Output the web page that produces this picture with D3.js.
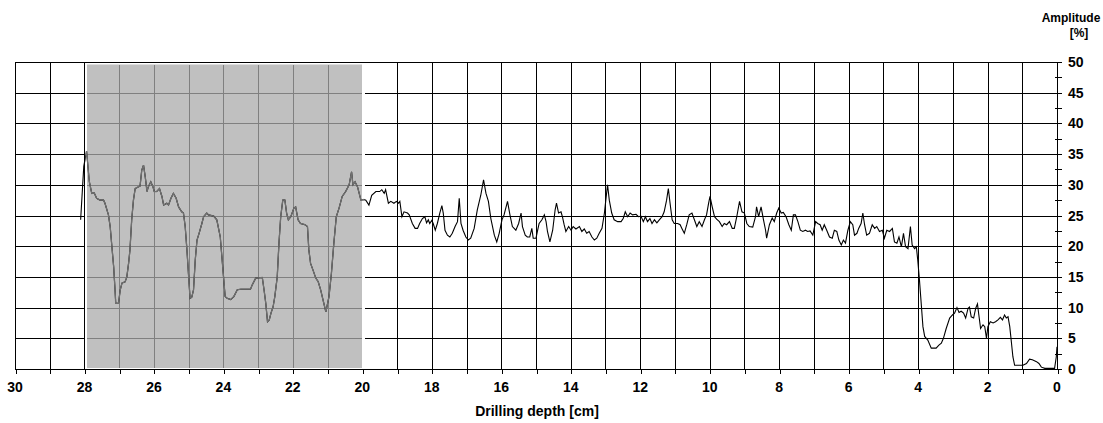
<!DOCTYPE html>
<html lang="en">
	<head>
		<meta charset="utf-8">
		<title>Drilling profile</title>
		<script type="text/javascript" src="https://cdn.jsdelivr.net/npm/d3@7"></script>
		<style type="text/css">
			body { margin: 0; background: #fff; }
			text { font-family: "Liberation Sans", Arial, sans-serif; font-weight: bold; fill: #000; }
		</style>
	</head>
	<body>
	<script>

		var w = 1103;
		var h = 423;

		/* depth [cm] and amplitude [%], from deep to shallow */
		var depth = [
			28.11,28.02,27.94,27.86,27.79,27.72,27.65,27.55,27.45,27.41,
			27.31,27.26,27.21,27.16,27.12,27.10,27.02,26.97,26.92,26.83,
			26.78,26.73,26.69,26.64,26.59,26.54,26.44,26.40,26.35,26.30,
			26.25,26.20,26.16,26.09,26.03,25.99,25.92,25.84,25.77,25.72,
			25.63,25.58,25.51,25.44,25.36,25.29,25.20,25.15,25.10,25.05,
			25.00,24.96,24.91,24.86,24.81,24.76,24.70,24.62,24.57,24.48,
			24.43,24.28,24.19,24.09,23.95,23.89,23.79,23.70,23.60,23.50,
			23.22,23.17,23.07,22.88,22.83,22.78,22.73,22.68,22.63,22.57,
			22.52,22.45,22.40,22.35,22.29,22.23,22.18,22.13,22.06,21.97,
			21.92,21.85,21.78,21.65,21.58,21.54,21.49,21.42,21.34,21.27,
			21.20,21.13,21.05,20.96,20.89,20.82,20.75,20.67,20.58,20.48,
			20.38,20.31,20.27,20.21,20.14,20.04,19.95,19.90,19.81,19.73,
			19.61,19.50,19.44,19.37,19.33,19.25,19.18,19.09,19.02,18.96,
			18.92,18.86,18.80,18.70,18.65,18.56,18.48,18.41,18.35,18.27,
			18.20,18.15,18.10,18.06,18.00,17.96,17.90,17.84,17.77,17.71,
			17.67,17.62,17.55,17.48,17.41,17.33,17.26,17.21,17.16,17.10,
			17.02,16.95,16.88,16.78,16.69,16.59,16.51,16.44,16.37,16.30,
			16.20,16.13,16.06,15.98,15.92,15.82,15.75,15.68,15.58,15.50,
			15.43,15.39,15.31,15.25,15.18,15.12,15.08,15.00,14.96,14.91,
			14.83,14.76,14.71,14.67,14.60,14.52,14.45,14.41,14.35,14.28,
			14.24,14.19,14.14,14.06,13.99,13.93,13.85,13.75,13.68,13.61,
			13.54,13.47,13.39,13.32,13.25,13.18,13.10,13.03,12.99,12.94,
			12.89,12.82,12.75,12.65,12.55,12.49,12.43,12.36,12.29,12.22,
			12.12,12.05,11.98,11.91,11.85,11.79,11.72,11.66,11.59,11.52,
			11.45,11.37,11.31,11.24,11.19,11.14,11.08,11.02,10.92,10.85,
			10.80,10.73,10.66,10.59,10.51,10.44,10.37,10.30,10.22,10.15,
			10.09,10.03,9.99,9.93,9.86,9.80,9.72,9.64,9.58,9.51,
			9.43,9.35,9.29,9.22,9.14,9.07,9.00,8.93,8.86,8.76,
			8.68,8.65,8.59,8.52,8.45,8.39,8.36,8.28,8.20,8.14,
			8.07,8.01,7.94,7.88,7.80,7.72,7.65,7.59,7.53,7.46,
			7.39,7.32,7.24,7.18,7.11,7.03,6.95,6.89,6.82,6.76,
			6.70,6.63,6.55,6.47,6.41,6.34,6.28,6.21,6.15,6.09,
			6.02,5.95,5.88,5.83,5.76,5.71,5.64,5.59,5.54,5.48,
			5.40,5.32,5.25,5.19,5.11,5.03,4.97,4.90,4.82,4.74,
			4.68,4.61,4.55,4.48,4.42,4.36,4.29,4.22,4.17,4.10,
			4.05,4.01,3.96,3.91,3.86,3.81,3.72,3.62,3.48,3.40,
			3.33,3.27,3.19,3.09,3.01,2.95,2.88,2.82,2.76,2.69,
			2.63,2.56,2.52,2.47,2.40,2.34,2.29,2.25,2.20,2.13,
			2.08,2.03,1.99,1.92,1.84,1.77,1.70,1.63,1.57,1.51,
			1.46,1.41,1.36,1.31,1.27,1.22,0.98,0.88,0.79,0.71,
			0.59,0.52,0.45,0.35,0.07,0.02,0.00
		];

		var amplitude = [
			24.3,33.0,35.5,30.5,28.6,28.7,27.8,27.5,27.5,27.0,
			25.1,23.2,19.9,16.7,12.9,10.7,10.7,12.9,14.0,14.2,
			15.0,17.2,19.4,24.3,27.5,29.4,29.7,29.8,32.4,33.2,
			31.3,28.9,29.7,30.5,29.7,28.9,28.9,29.4,28.1,26.7,
			27.0,26.7,27.8,28.6,27.8,26.4,25.6,25.4,23.2,19.4,
			15.0,11.5,11.7,12.9,17.8,21.0,22.1,23.7,24.8,25.4,
			25.1,24.9,24.3,21.5,11.8,11.5,11.3,11.8,12.9,13.0,
			13.0,13.7,14.8,14.9,12.9,10.7,7.7,8.0,9.1,10.1,
			11.8,15.0,20.5,24.8,27.5,27.5,25.4,24.3,24.8,26.2,
			26.4,24.3,23.7,23.5,23.2,19.4,17.2,16.1,14.8,14.2,
			12.9,11.2,9.3,11.8,15.6,20.5,24.8,26.2,28.1,28.9,
			30.0,32.1,30.0,30.5,29.7,27.5,27.6,27.5,26.7,28.3,
			28.9,28.9,29.2,28.6,29.2,27.0,27.3,27.0,27.3,27.0,
			27.3,24.8,25.6,25.4,25.1,23.7,22.9,22.9,23.7,24.5,
			24.8,23.8,24.3,23.7,24.2,23.7,22.6,23.7,25.4,26.6,
			25.4,22.6,21.8,21.5,22.1,23.2,24.0,27.8,23.7,22.6,
			21.5,21.0,21.3,22.9,25.9,28.3,30.8,28.6,27.3,24.5,
			21.8,20.7,22.1,24.3,25.1,27.3,25.1,23.2,22.6,23.7,
			25.4,23.2,21.8,21.5,21.5,22.9,21.3,21.3,22.4,23.7,
			24.3,25.1,24.0,22.4,20.7,22.6,25.9,27.0,25.4,25.6,
			24.8,23.5,22.4,23.2,22.6,23.2,22.8,23.2,22.4,22.8,
			22.1,22.4,21.5,21.0,21.3,22.1,22.9,25.4,27.5,30.0,
			27.5,25.4,24.3,24.0,24.0,24.5,25.6,24.8,25.4,25.1,
			25.2,24.8,24.9,24.0,24.8,24.0,24.5,23.7,24.3,23.8,
			24.3,24.8,25.6,27.5,29.4,27.0,24.3,23.7,23.7,23.5,
			22.9,22.1,23.5,25.1,25.4,24.3,23.2,24.0,23.2,24.3,
			25.1,27.0,28.1,26.5,24.8,24.4,24.0,23.2,23.7,23.5,
			24.0,22.9,22.9,24.8,27.3,25.6,25.4,23.7,23.2,23.1,
			24.8,26.4,24.8,26.4,24.3,22.6,21.3,23.5,24.6,24.0,
			25.4,26.2,25.4,25.5,24.8,23.5,22.6,25.1,25.1,24.0,
			22.6,22.4,22.6,22.4,22.5,21.8,24.0,23.7,23.5,22.6,
			23.5,22.6,21.5,21.3,22.6,22.4,21.0,20.2,21.0,20.5,
			22.6,24.0,23.5,21.8,22.1,22.9,23.7,25.4,23.5,21.8,
			22.1,23.5,22.9,23.2,22.4,22.6,21.3,22.6,22.4,22.9,
			20.7,20.5,21.5,19.9,22.1,19.9,19.6,23.2,20.2,19.6,
			19.9,17.8,14.5,10.7,6.9,5.3,4.7,3.4,3.4,3.9,
			4.2,5.0,6.6,8.3,8.8,9.1,10.0,9.2,9.4,9.1,
			8.3,9.9,10.1,8.5,8.3,9.9,10.6,8.8,6.6,7.2,
			6.9,5.0,6.9,7.7,7.5,7.7,8.0,8.4,8.0,8.8,
			8.3,8.5,6.9,4.2,2.0,0.6,0.6,0.9,1.6,1.5,
			1.2,0.9,0.3,0.1,0.1,2.0,3.6
		];

		var depthTicks = [30,28,26,24,22,20,18,16,14,12,10,8,6,4,2,0];
		var ampTicks = [0,5,10,15,20,25,30,35,40,45,50];
		var shadedZone = [28, 20];   // cm

		var xTitle = "Drilling depth [cm]";
		var yTitle = ["Amplitude", "[%]"];

		var svg = d3.select("body").append("svg").attr("width", w).attr("height", h);

		var x = d3.scaleLinear().domain([30, 0]).range([15, 1057]);
		var y = d3.scaleLinear().domain([0, 50]).range([369, 62]);

		function px(v){ return Math.round(v) + 0.5; }

		var cmLines = d3.range(0, 31);
		var gridG = svg.append("g").attr("shape-rendering", "crispEdges");

		// black grid over the whole plot
		gridG.selectAll("line.v").data(cmLines).enter().append("line")
			.attr("x1", function(d){ return px(x(d)); }).attr("x2", function(d){ return px(x(d)); })
			.attr("y1", y(50)).attr("y2", y(0))
			.attr("stroke", "#000");
		gridG.selectAll("line.h").data(ampTicks).enter().append("line")
			.attr("x1", x(30)).attr("x2", x(0) + 5)
			.attr("y1", function(d){ return px(y(d)); }).attr("y2", function(d){ return px(y(d)); })
			.attr("stroke", "#000");

		// shaded zone: white frame and grey fill
		var zx0 = px(x(shadedZone[0])), zx1 = px(x(shadedZone[1]));
		svg.append("rect")
			.attr("x", zx0 + 0.5).attr("y", px(y(50)) + 0.5)
			.attr("width", zx1 - zx0 + 2).attr("height", px(y(0)) - px(y(50)) - 1)
			.attr("fill", "#fff");
		var gx0 = zx0 + 2.5, gx1 = zx1 - 0.5, gy0 = px(y(50)) + 2, gy1 = px(y(0)) - 1.5;
		svg.append("rect")
			.attr("x", gx0).attr("y", gy0)
			.attr("width", gx1 - gx0).attr("height", gy1 - gy0)
			.attr("fill", "#c0c0c0");

		var zoneG = svg.append("g").attr("shape-rendering", "crispEdges");
		zoneG.selectAll("line.v").data(cmLines.filter(function(d){ return d > shadedZone[1] && d < shadedZone[0]; }))
			.enter().append("line")
			.attr("x1", function(d){ return px(x(d)); }).attr("x2", function(d){ return px(x(d)); })
			.attr("y1", gy0).attr("y2", gy1)
			.attr("stroke", "#808080");
		zoneG.selectAll("line.h").data(ampTicks.filter(function(d){ return d > 0 && d < 50; }))
			.enter().append("line")
			.attr("x1", gx0).attr("x2", gx1)
			.attr("y1", function(d){ return px(y(d)); }).attr("y2", function(d){ return px(y(d)); })
			.attr("stroke", "#808080");

		// bottom axis
		var xAxis = d3.axisBottom(x).tickValues(cmLines).tickSize(4).tickFormat("");
		var xg = svg.append("g").attr("transform", "translate(0," + px(y(0)) + ")").call(xAxis);
		xg.select(".domain").remove();
		xg.selectAll("line").attr("stroke", "#000").attr("shape-rendering", "crispEdges")
			.attr("transform", function(){ return "translate(0.5,0)"; });
		svg.append("line")
			.attr("x1", x(30)).attr("x2", x(0) + 1)
			.attr("y1", px(y(0))).attr("y2", px(y(0)))
			.attr("stroke", "#000").attr("shape-rendering", "crispEdges");
		svg.selectAll("text.xl").data(depthTicks).enter().append("text")
			.attr("x", function(d){ return x(d); }).attr("y", 392)
			.attr("text-anchor", "middle").attr("font-size", 14)
			.text(function(d){ return d; });

		// right axis
		var rightG = svg.append("g").attr("shape-rendering", "crispEdges");
		rightG.append("line")
			.attr("x1", px(x(0))).attr("x2", px(x(0)))
			.attr("y1", y(50)).attr("y2", y(0) + 1)
			.attr("stroke", "#000");
		rightG.selectAll("line.minor").data(ampTicks.slice(1)).enter().append("line")
			.attr("x1", px(x(0)) - 3).attr("x2", px(x(0)) + 4)
			.attr("y1", function(d){ return px(y(d - 2.5)); }).attr("y2", function(d){ return px(y(d - 2.5)); })
			.attr("stroke", "#000");
		svg.selectAll("text.yl").data(ampTicks).enter().append("text")
			.attr("x", 1068).attr("y", function(d){ return y(d) + 5; })
			.attr("font-size", 14)
			.text(function(d){ return d; });

		// the curve: black everywhere, grey inside the shaded zone
		var pts = depth.map(function(d, i){ return [d, amplitude[i]]; });
		var line = d3.line()
			.x(function(d){ return x(d[0]); })
			.y(function(d){ return y(d[1]); });

		svg.append("clipPath").attr("id", "zoneClip").append("rect")
			.attr("x", zx0 + 1).attr("y", 0).attr("width", zx1 - zx0 + 1).attr("height", h);

		svg.append("path").datum(pts)
			.attr("d", line).attr("fill", "none")
			.attr("stroke", "#000").attr("stroke-width", 1.1);
		svg.append("path").datum(pts)
			.attr("d", line).attr("fill", "none")
			.attr("clip-path", "url(#zoneClip)")
			.attr("stroke", "#707070").attr("stroke-width", 1.3);

		// titles
		svg.append("text").attr("x", 537).attr("y", 416)
			.attr("text-anchor", "middle").attr("font-size", 14)
			.text(xTitle);
		svg.selectAll("text.yt").data(yTitle).enter().append("text")
			.attr("x", function(d, i){ return i === 0 ? 1071 : 1079; })
			.attr("y", function(d, i){ return 22 + i * 15; })
			.attr("text-anchor", "middle").attr("font-size", 12)
			.text(function(d){ return d; });

	</script>
	</body>
</html>
